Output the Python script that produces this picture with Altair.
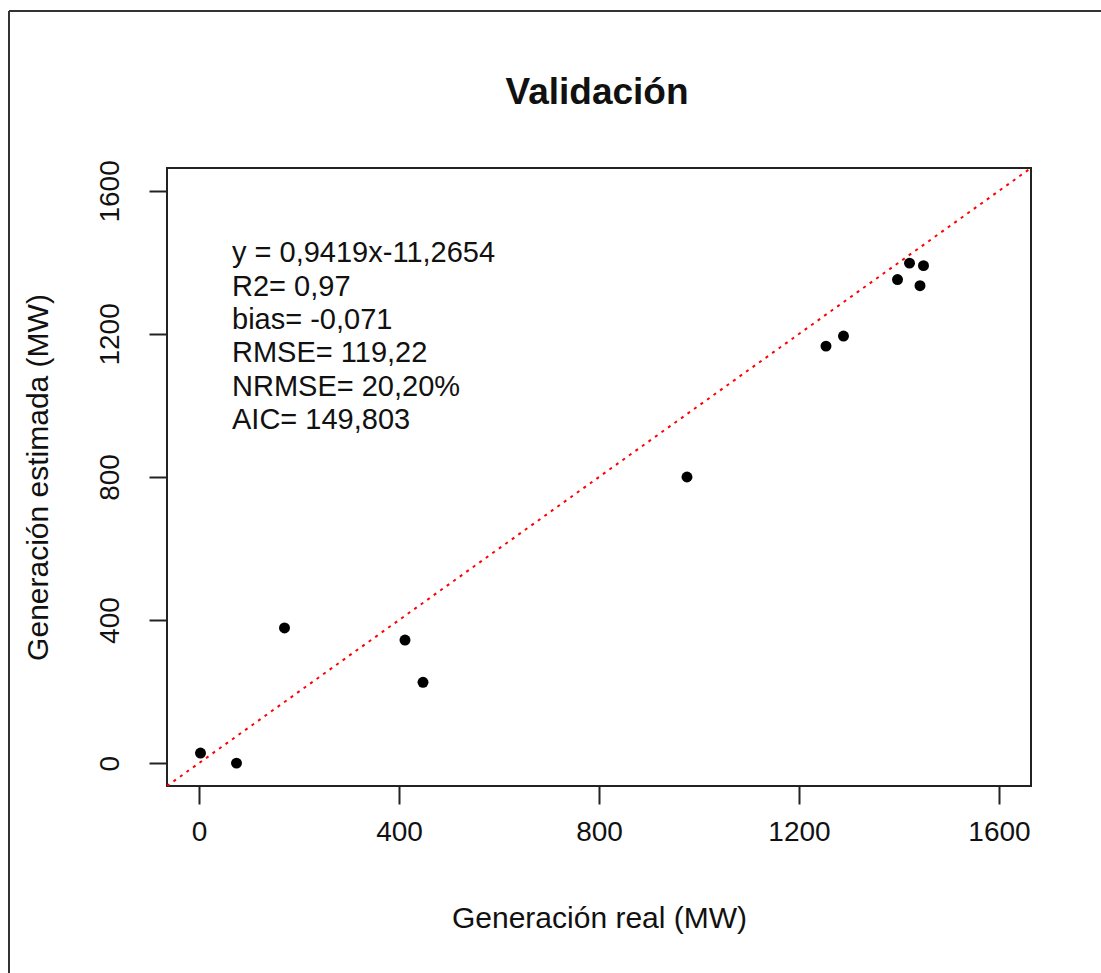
import altair as alt
import pandas as pd

# Data
real = [3, 75, 171, 412, 448, 976, 1254, 1289, 1397, 1421, 1449, 1442]
estimada = [28, 0, 378, 344, 226, 800, 1166, 1194, 1352, 1398, 1391, 1335]

axis_domain = [-64, 1664]
tick_values = [0, 400, 800, 1200, 1600]
ref_line_x = [-64, 1664]   # y = x line
ref_line_y = [-64, 1664]

title_text = ["Validación"]
annot_lines = [
    "y = 0,9419x-11,2654",
    "R2= 0,97",
    "bias= -0,071",
    "RMSE= 119,22",
    "NRMSE= 20,20%",
    "AIC= 149,803",
]
annot_x = [66]
annot_y = [1465]

FONT = "Liberation Sans"
W, H = 864, 618

pts = pd.DataFrame({"real": real, "est": estimada})
line_df = pd.DataFrame({"real": ref_line_x, "est": ref_line_y})
annot_df = pd.DataFrame({"real": annot_x, "est": annot_y, "txt": ["\n".join(annot_lines)]})
title_df = pd.DataFrame({"t": title_text})

xscale = alt.Scale(domain=axis_domain, nice=False, zero=False)
yscale = alt.Scale(domain=axis_domain, nice=False, zero=False)

xaxis = alt.Axis(
    title="Generación real (MW)", values=tick_values, format="d", grid=False, domain=False,
    tickSize=18, tickWidth=2, tickColor="#222222",
    labelFont=FONT, labelFontSize=28, labelColor="#111111", labelBaseline="middle",
    labelPadding=28, labelFlush=False,
    titleFont=FONT, titleFontSize=30, titleFontWeight="normal", titleColor="#111111",
    titleY=132, titleBaseline="middle",
)
yaxis = alt.Axis(
    title="Generación estimada (MW)", values=tick_values, format="d", grid=False, domain=False,
    tickSize=18, tickWidth=2, tickColor="#222222",
    labelFont=FONT, labelFontSize=28, labelColor="#111111", labelAngle=270,
    labelAlign="center", labelBaseline="middle", labelPadding=39, labelFlush=False,
    titleFont=FONT, titleFontSize=30, titleFontWeight="normal", titleColor="#111111",
    titleX=-129, titleBaseline="middle", titleAngle=270,
)

points = alt.Chart(pts).mark_point(filled=True, color="black", size=120, opacity=1).encode(
    x=alt.X("real:Q", scale=xscale, axis=xaxis),
    y=alt.Y("est:Q", scale=yscale, axis=yaxis),
)

refline = alt.Chart(line_df).mark_line(
    color="#ff0000", strokeWidth=2, strokeDash=[3, 5], clip=True
).encode(x="real:Q", y="est:Q")

annot = alt.Chart(annot_df).mark_text(
    align="left", baseline="top", font=FONT, fontSize=29, color="#111111",
    lineBreak="\n", lineHeight=33.4,
).encode(x="real:Q", y="est:Q", text="txt:N")

title = alt.Chart(title_df).mark_text(
    align="center", baseline="middle", font=FONT, fontSize=37, fontWeight="bold",
    color="#111111",
).encode(x=alt.value(W / 2 - 2), y=alt.value(-75), text="t:N")

# outer image frame (left and top edges)
frame_left = alt.Chart(pts).mark_rule(color="#333333", strokeWidth=2).encode(
    x=alt.value(-158), y=alt.value(-157), y2=alt.value(820)
)
frame_top = alt.Chart(pts).mark_rule(color="#333333", strokeWidth=2).encode(
    x=alt.value(-158), x2=alt.value(950), y=alt.value(-157)
)

chart = alt.layer(refline, points, annot, title, frame_left, frame_top).properties(
    width=W, height=H,
    autosize=alt.AutoSizeParams(type="none"),
    padding={"left": 167, "top": 168, "right": 70, "bottom": 187},
).configure(
    background="white"
).configure_view(
    stroke="#222222", strokeWidth=2
)

chart.save("out.html", embed_options={"renderer": "svg", "actions": False})
